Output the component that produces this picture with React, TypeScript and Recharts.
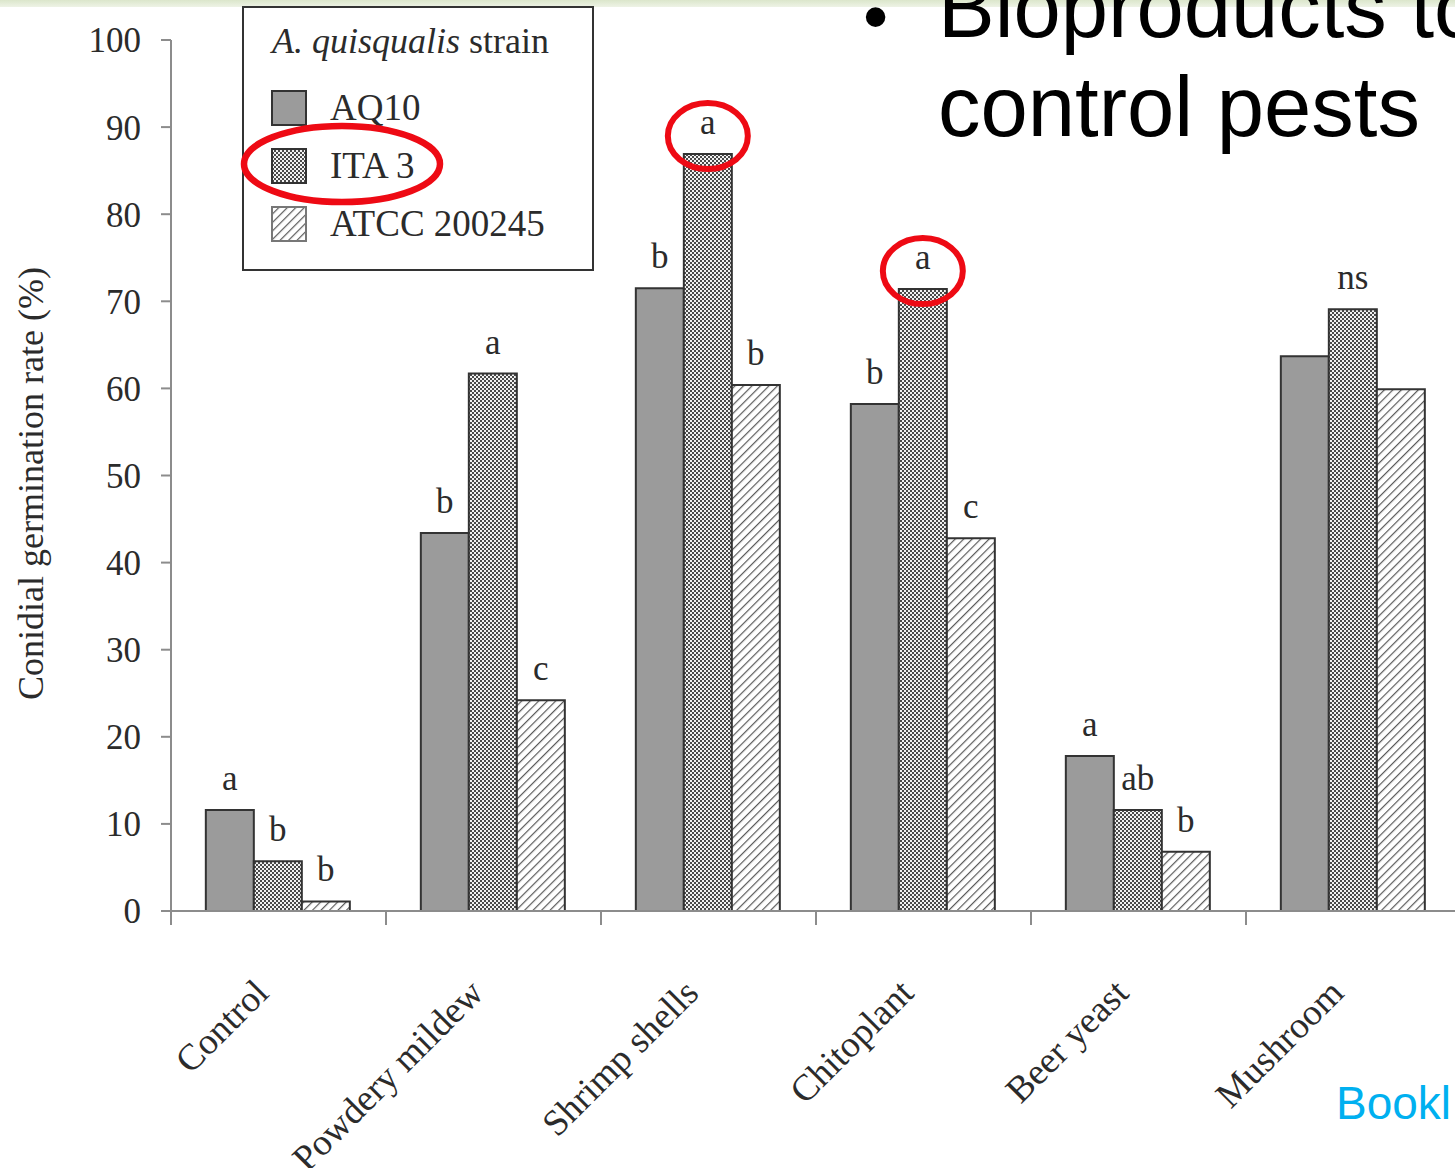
import React from 'react';
import { BarChart, Bar, XAxis, YAxis, LabelList } from 'recharts';

const categories = ['Control', 'Powdery mildew', 'Shrimp shells', 'Chitoplant', 'Beer yeast', 'Mushroom'];
const aq10 = [11.6, 43.4, 71.5, 58.2, 17.8, 63.7];
const ita3 = [5.7, 61.7, 86.9, 71.4, 11.6, 69.1];
const atcc = [1.1, 24.2, 60.4, 42.8, 6.8, 59.9];
const aq10Letters = ['a', 'b', 'b', 'b', 'a', ''];
const ita3Letters = ['b', 'a', 'a', 'a', 'ab', 'ns'];
const atccLetters = ['b', 'c', 'b', 'c', 'b', ''];
const ita3Circled = [false, false, true, true, false, false];
const yTicks = [0, 10, 20, 30, 40, 50, 60, 70, 80, 90, 100];

const chartData = categories.map((name, i) => ({
  name,
  aq10: aq10[i],
  ita3: ita3[i],
  atcc: atcc[i],
  aq10Letter: aq10Letters[i],
  ita3Letter: ita3Letters[i],
  atccLetter: atccLetters[i],
}));

const serif = '"Liberation Serif", "Times New Roman", serif';
const sans = '"Liberation Sans", Arial, sans-serif';
const ink = '#2b2b2b';
const axisGray = '#8c8c8c';
const red = '#ee0a14';

function Patterns({ prefix }: { prefix: string }) {
  return (
    <defs>
      <pattern id={`${prefix}-check`} width={4} height={4} patternUnits="userSpaceOnUse">
        <rect width={4} height={4} fill="#f2f2f2" />
        <rect width={2} height={2} fill="#4a4a4a" />
        <rect x={2} y={2} width={2} height={2} fill="#4a4a4a" />
      </pattern>
      <pattern
        id={`${prefix}-hatch`}
        width={6}
        height={6}
        patternUnits="userSpaceOnUse"
        patternTransform="rotate(45)"
      >
        <rect width={6} height={6} fill="#ffffff" />
        <line x1={0} y1={0} x2={0} y2={6} stroke="#5a5a5a" strokeWidth={2.4} />
      </pattern>
    </defs>
  );
}

function letterLabel(circled?: boolean[]) {
  return (props: any) => {
    const { x, y, width, value, index } = props;
    if (!value) return null;
    const cx = Number(x) + Number(width) / 2;
    const top = Number(y);
    return (
      <g>
        <text x={cx} y={top - 20} textAnchor="middle" fontFamily={serif} fontSize={35} fill={ink}>
          {value}
        </text>
        {circled && circled[index] ? (
          <ellipse cx={cx} cy={top - 18} rx={40} ry={33} fill="none" stroke={red} strokeWidth={6} />
        ) : null}
      </g>
    );
  };
}

function CategoryTick(props: any) {
  const { x, y, payload } = props;
  const half = payload && payload.offset ? payload.offset : 107.5;
  const ax = Number(x) - 8;
  const ay = Number(y) + 84;
  return (
    <g>
      <line x1={x - half} y1={y} x2={x - half} y2={y + 14} stroke={axisGray} strokeWidth={2} />
      <text
        x={ax}
        y={ay}
        textAnchor="end"
        transform={`rotate(-45 ${ax} ${ay})`}
        fontFamily={serif}
        fontSize={37}
        fill={ink}
      >
        {payload.value}
      </text>
    </g>
  );
}

const legendItems = [
  { label: 'AQ10', fill: '#9b9b9b' },
  { label: 'ITA 3', fill: 'url(#lg-check)' },
  { label: 'ATCC 200245', fill: 'url(#lg-hatch)' },
];

function LegendBox() {
  return (
    <svg width={352} height={265} style={{ overflow: 'visible', display: 'block' }}>
      <Patterns prefix="lg" />
      <rect x={1} y={1} width={350} height={263} fill="#fff" stroke="#333" strokeWidth={2} />
      <text x={30} y={47} fontFamily={serif} fontSize={36} fill={ink}>
        <tspan fontStyle="italic">A. quisqualis</tspan> strain
      </text>
      {legendItems.map((it, i) => (
        <g key={it.label}>
          <rect
            x={30}
            y={85 + i * 58}
            width={34}
            height={34}
            fill={it.fill}
            stroke={i === 2 ? '#777' : '#333'}
            strokeWidth={2}
          />
          <text x={88} y={114 + i * 58} fontFamily={serif} fontSize={37} fill={ink}>
            {it.label}
          </text>
        </g>
      ))}
      <ellipse cx={100} cy={158} rx={98} ry={38} fill="none" stroke={red} strokeWidth={6.5} />
    </svg>
  );
}

export default function App() {
  return (
    <div
      style={{
        position: 'absolute',
        left: 0,
        top: 0,
        width: 1455,
        height: 1168,
        overflow: 'hidden',
        background: '#fff',
      }}
    >
      <div
        style={{
          position: 'absolute',
          left: 0,
          top: 0,
          width: 1455,
          height: 7,
          background: 'linear-gradient(#dbe6cb, #eef3e6)',
        }}
      />
      <div style={{ position: 'absolute', left: 0, top: 0 }}>
        <BarChart
          width={1480}
          height={1168}
          data={chartData}
          margin={{ top: 40, right: 19, left: 0, bottom: 0 }}
          barCategoryGap="16.2%"
          barGap={0}
        >
          <Patterns prefix="ch" />
          <XAxis
            dataKey="name"
            interval={0}
            tickLine={false}
            tickSize={0}
            tickMargin={0}
            height={257}
            axisLine={{ stroke: axisGray, strokeWidth: 2 }}
            tick={<CategoryTick />}
          />
          <YAxis
            width={171}
            domain={[0, 100]}
            ticks={yTicks}
            interval={0}
            tickSize={10}
            tickMargin={20}
            axisLine={{ stroke: axisGray, strokeWidth: 2 }}
            tickLine={{ stroke: axisGray, strokeWidth: 2 }}
            tick={{ fontFamily: serif, fontSize: 35, fill: ink }}
            label={(p: any) => {
              const vb = p.viewBox || { x: 0, y: 40, width: 171, height: 871 };
              const lx = vb.x + 43;
              const ly = vb.y + vb.height / 2 + 8;
              return (
                <text
                  x={lx}
                  y={ly}
                  textAnchor="middle"
                  transform={`rotate(-90 ${lx} ${ly})`}
                  fontFamily={serif}
                  fontSize={36}
                  fill={ink}
                >
                  Conidial germination rate (%)
                </text>
              );
            }}
          />
          <Bar dataKey="aq10" fill="#9b9b9b" stroke="#333" strokeWidth={2} isAnimationActive={false}>
            <LabelList dataKey="aq10Letter" content={letterLabel()} />
          </Bar>
          <Bar dataKey="ita3" fill="url(#ch-check)" stroke="#333" strokeWidth={2} isAnimationActive={false}>
            <LabelList dataKey="ita3Letter" content={letterLabel(ita3Circled)} />
          </Bar>
          <Bar dataKey="atcc" fill="url(#ch-hatch)" stroke="#333" strokeWidth={2} isAnimationActive={false}>
            <LabelList dataKey="atccLetter" content={letterLabel()} />
          </Bar>
        </BarChart>
      </div>
      <div style={{ position: 'absolute', left: 242, top: 6 }}>
        <LegendBox />
      </div>
      <div
        style={{
          position: 'absolute',
          left: 863,
          top: -20,
          fontFamily: sans,
          fontSize: 72,
          lineHeight: '72px',
          color: '#000',
        }}
      >
        •
      </div>
      <div
        style={{
          position: 'absolute',
          left: 938,
          top: -42,
          fontFamily: sans,
          fontSize: 85,
          lineHeight: '99px',
          color: '#000',
          whiteSpace: 'nowrap',
        }}
      >
        <div>Bioproducts to</div>
        <div>control pests</div>
      </div>
      <div
        style={{
          position: 'absolute',
          left: 1336,
          top: 1076,
          fontFamily: sans,
          fontSize: 46,
          color: '#00b0f0',
          whiteSpace: 'nowrap',
        }}
      >
        Bookl
      </div>
    </div>
  );
}
